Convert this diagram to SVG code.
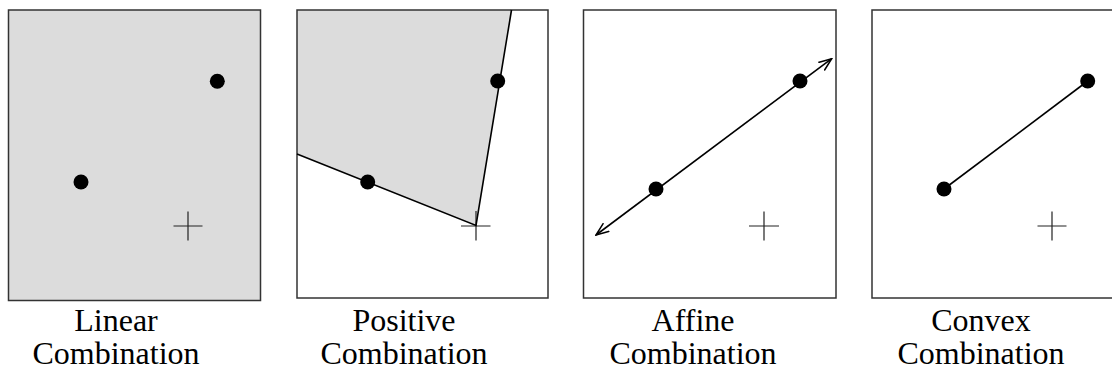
<svg xmlns="http://www.w3.org/2000/svg" width="1112" height="372" viewBox="0 0 1112 372">
<style>
.frame{fill:none;stroke:#333;stroke-width:1.5}
.shade{fill:#dcdcdc}
.cross{stroke:#222;stroke-width:1.2;fill:none}
.ln{stroke:#000;stroke-width:1.6;fill:none}
.dot{fill:#000}
.lbl{font-family:"Liberation Serif","Times New Roman",serif;font-size:32px;fill:#000;text-anchor:middle}
</style>
<defs>
<marker id="arr" viewBox="0 0 14 12" refX="13" refY="6" markerWidth="14" markerHeight="12" markerUnits="userSpaceOnUse" orient="auto-start-reverse">
<path d="M0,1 L13,6 L0,11" fill="none" stroke="#000" stroke-width="1.5"/>
</marker>
</defs>
<g id="panel-linear">
<rect class="shade" x="8.5" y="10" width="252" height="290.5"/>
<rect class="frame" x="8.5" y="10" width="252" height="290.5"/>
<path class="cross" d="M173.5,226 H202.5 M188,211.5 V240.5"/>
<circle class="dot" cx="217.3" cy="81.3" r="7.5"/>
<circle class="dot" cx="81" cy="182" r="7.5"/>
<text class="lbl" x="116" y="331">Linear</text>
<text class="lbl" x="116" y="364">Combination</text>
</g>
<g id="panel-positive">
<polygon class="shade" points="297,10 511.5,10 476,225.5 297,154"/>
<rect class="frame" x="297" y="10" width="251" height="288"/>
<path class="cross" d="M461,226 H490.5 M476,211 V240.5"/>
<path class="ln" d="M511.5,10 L476,225.5 L297,154"/>
<circle class="dot" cx="497.7" cy="81" r="7.5"/>
<circle class="dot" cx="367.7" cy="182" r="7.5"/>
<text class="lbl" x="404" y="331">Positive</text>
<text class="lbl" x="404" y="364">Combination</text>
</g>
<g id="panel-affine">
<rect class="frame" x="583.5" y="10" width="252.5" height="288"/>
<path class="cross" d="M749,226 H779 M764,211.5 V240.5"/>
<circle class="dot" cx="800" cy="81" r="7.5"/>
<circle class="dot" cx="656" cy="189" r="7.5"/>
<text class="lbl" x="693" y="331">Affine</text>
<text class="lbl" x="693" y="364">Combination</text>
</g>
<g id="panel-convex">
<rect class="frame" x="872" y="10" width="252" height="288"/>
<path class="cross" d="M1037.5,226 H1066.5 M1052,211.5 V240.5"/>
<circle class="dot" cx="1087.7" cy="81" r="7.5"/>
<circle class="dot" cx="944" cy="189" r="7.5"/>
<text class="lbl" x="981" y="331">Convex</text>
<text class="lbl" x="981" y="364">Combination</text>
</g>
<g id="connectors">
<line class="ln" x1="596" y1="235" x2="831.7" y2="58.7" marker-start="url(#arr)" marker-end="url(#arr)"/>
<line class="ln" x1="944" y1="189" x2="1087.7" y2="81"/>
</g>
</svg>
